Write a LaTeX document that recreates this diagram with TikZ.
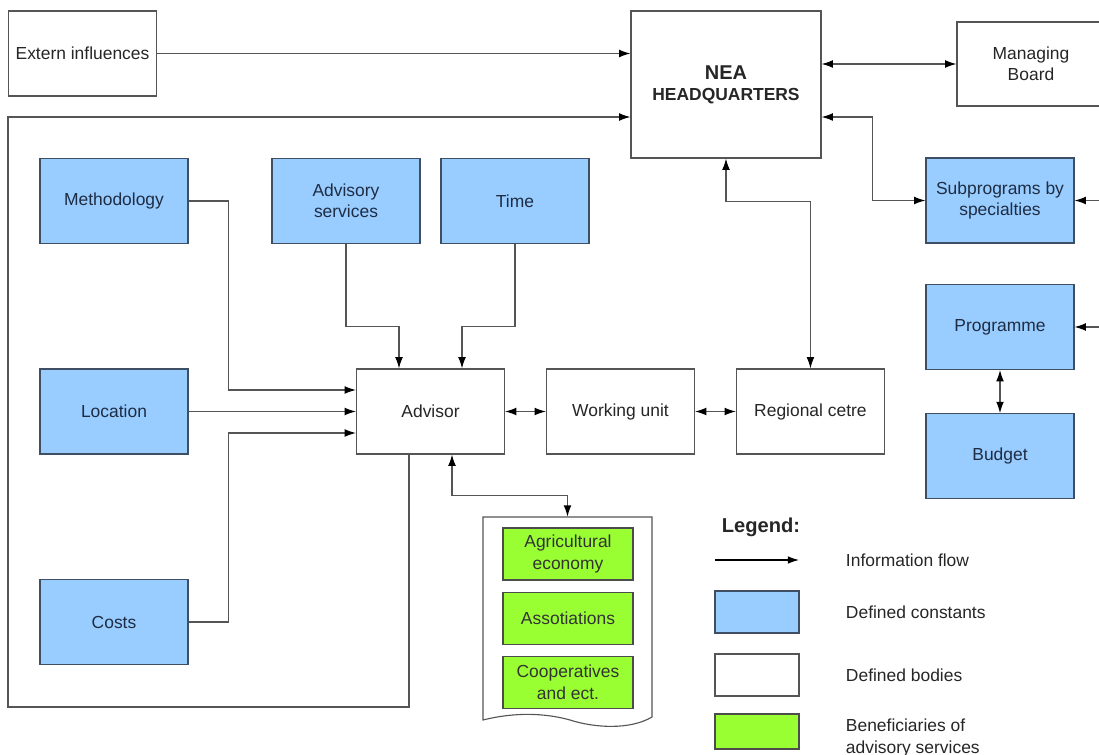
\documentclass[tikz,border=0pt]{standalone}
\usepackage{fontspec}
\setmainfont{Liberation Sans}
\usetikzlibrary{arrows.meta, positioning, calc}
\definecolor{neaLine}{HTML}{555555}
\definecolor{neaBlue}{HTML}{99CCFF}
\definecolor{neaGreen}{HTML}{99FF33}
\definecolor{neaNavy}{HTML}{1E2D44}
\definecolor{neaEdge}{HTML}{3E4E63}

\begin{document}
\begin{tikzpicture}[
  x=0.025cm, y=-0.025cm,
  node distance=1.02cm,
  body/.style={draw=neaLine, fill=white, rectangle, minimum width=3.7cm, minimum height=2.125cm, align=center, font=\fontsize{12.4}{15}\selectfont, line width=0.8pt, text=black!85},
  const/.style={body, draw=neaEdge, fill=neaBlue, text=neaNavy},
  benef/.style={body, draw=black!70, fill=neaGreen, minimum width=3.25cm, minimum height=1.3cm, text=black!80},
  key/.style={draw=neaLine, inner sep=0pt, minimum width=2.1cm, minimum height=1.05cm, line width=0.8pt},
  keytext/.style={anchor=west, align=left, font=\fontsize{12.4}{15}\selectfont, text=black!85},
  flow/.style={-{Latex[length=8pt,width=5.5pt,color=black]}, line width=0.8pt, draw=neaLine},
  both/.style={flow, {Latex[length=8pt,width=5.5pt,color=black]}-{Latex[length=8pt,width=5.5pt,color=black]}}
]
\useasboundingbox (0,0) rectangle (1099,755);

% bodies and constants
\node[body] (ext) at (82.5,53.5) {Extern influences};
\node[body, minimum width=4.75cm, minimum height=3.675cm] (hq) at (726,84.5) {{\fontsize{14.2}{17}\selectfont\bfseries NEA}\\{\bfseries HEADQUARTERS}};
\node[body, minimum height=2.1cm] (board) at (1031,64) {Managing\\Board};
\node[const] (sub) at (1000,200.5) {Subprograms by\\specialties};
\node[const] (prog) at (1000,327) {Programme};
\node[const, below=1.075cm of prog] (budget) {Budget};
\node[const] (meth) at (114,201) {Methodology};
\node[const] (advsrv) at (346,201) {Advisory\\services};
\node[const] (time) at (515,201) {Time};
\node[const] (loc) at (114,411.5) {Location};
\node[const] (costs) at (114,622) {Costs};
\node[body] (advisor) at (430.5,411.5) {Advisor};
\node[body, right=of advisor] (work) {Working unit};
\node[body, right=of work] (region) {Regional cetre};

% beneficiaries sheet
\node[minimum width=4.225cm, minimum height=5cm, inner sep=0pt] (doc) at (567.5,617) {};
\draw[line width=0.8pt, draw=neaLine] (652,717) .. controls (630,730) and (595,728) .. (570,720)
  .. controls (545,713) and (515,712) .. (483,720) -- (483,517) -- (652,517) -- cycle;
\node[benef] (agri) at (568,554) {Agricultural\\economy};
\node[benef, below=0.275cm of agri] (assoc) {Assotiations};
\node[benef, below=0.275cm of assoc] (coop) {Cooperatives\\and ect.};

% connectors
\coordinate (loopL) at (8,707);
\coordinate (inSub) at ($(sub.east)+(40,0)$);
\coordinate (inProg) at ($(prog.east)+(40,0)$);
\draw[flow] (ext.east) -- (ext.east -| hq.west);
\draw[flow] ($(advisor.south)+(-21.5,0)$) |- (loopL) |- ($(hq.west)+(0,32.5)$);
\draw[both] (board.west -| hq.east) -- (board.west);
\draw[both] ($(hq.east)+(0,32.5)$) -| ($(sub.west)+(-53,0)$) -- (sub.west);
\draw[flow] (inSub) -- (sub.east);
\draw[flow] (inProg) -- (prog.east);
\draw[both] (prog) -- (budget);
\draw[flow] (meth.east) -| ($(advisor.west)+(-127,-21.5)$) -- ($(advisor.west)+(0,-21.5)$);
\draw[flow] (loc.east) -- (advisor.west);
\draw[flow] (costs.east) -| ($(advisor.west)+(-127,21.5)$) -- ($(advisor.west)+(0,21.5)$);
\draw[flow] (advsrv.south) |- ($(advisor.north)+(-31.5,-42)$) -- ($(advisor.north)+(-31.5,0)$);
\draw[flow] (time.south) |- ($(advisor.north)+(31.5,-42)$) -- ($(advisor.north)+(31.5,0)$);
\draw[both] (advisor) -- (work);
\draw[both] (work) -- (region);
\draw[both] (region.north) |- ($(hq.south)+(0,43)$) -- (hq.south);
\draw[both] ($(advisor.south)+(21.5,0)$) |- ($(doc.north)+(0,-21)$) -- (doc.north);

% legend
\node[font=\fontsize{14.3}{17}\selectfont\bfseries, text=black!85] (legend) at (761,527) {Legend:};
\coordinate (keyA) at (715,560);
\coordinate (keyB) at (799,560);
\draw[-{Latex[length=8pt,width=5.5pt]}, line width=0.8pt] (keyA) -- (keyB);
\node[key, fill=neaBlue, draw=neaEdge] (keyConst) at (757,612) {};
\node[key, fill=white] (keyBody) at (757,675) {};
\node[key, fill=neaGreen, draw=black!70, minimum height=0.875cm] (keyBen) at (757,731.5) {};
\node[keytext] (txtFlow) at (841,560) {Information flow};
\node[keytext] (txtConst) at (841,612) {Defined constants};
\node[keytext] (txtBody) at (841,675) {Defined bodies};
\node[keytext] (txtBen) at (841,738) {Beneficiaries of\\advisory services};
\end{tikzpicture}
\end{document}
